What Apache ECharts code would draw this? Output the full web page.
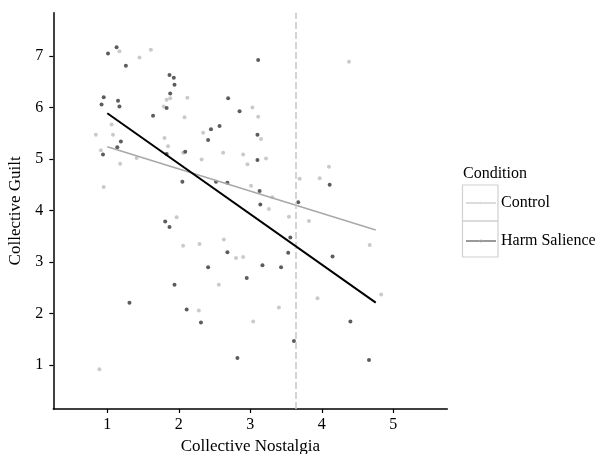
<!DOCTYPE html>
<html>
<head>
<meta charset="utf-8">
<script src="https://cdn.jsdelivr.net/npm/echarts@6/dist/echarts.min.js"></script>
<style>html,body{margin:0;padding:0;background:#fff;}#c{width:606px;height:454px;}</style>
</head>
<body>
<div id="c"></div>
<script>
const xTicks = [1, 2, 3, 4, 5];
const yTicks = [1, 2, 3, 4, 5, 6, 7];
const seriesNames = ['Control', 'Harm Salience'];

const controlPoints = [
  [1.17,7.09],[1.45,6.97],[1.61,7.12],[1.88,6.18],[1.83,6.15],[1.79,6.02],[2.12,6.19],
  [2.08,5.81],[1.06,5.67],[0.84,5.47],[1.08,5.47],[1.80,5.41],[1.85,5.25],[2.34,5.51],
  [0.91,5.17],[4.38,6.89],[3.03,6.00],[3.11,5.82],[3.15,5.39],[1.18,4.91],[1.41,5.02],
  [0.95,4.46],[2.06,5.12],[2.32,4.99],[1.97,3.87],[2.06,3.32],[2.29,3.35],[2.62,5.12],
  [2.90,5.09],[2.96,4.90],[3.22,5.01],[4.10,4.85],[3.97,4.63],[3.69,4.62],[3.01,4.48],
  [3.31,4.26],[3.26,4.03],[3.54,3.88],[3.82,3.80],[2.63,3.44],[2.80,3.08],[2.90,3.10],
  [2.56,2.56],[4.67,3.33],[2.28,2.06],[0.89,0.92],[3.04,1.85],[3.40,2.12],[3.94,2.30],
  [4.83,2.37]
];
const harmPoints = [
  [1.01,7.05],[1.13,7.17],[1.26,6.81],[0.95,6.20],[0.92,6.06],[1.15,6.13],[1.17,6.02],
  [1.87,6.63],[1.93,6.58],[1.94,6.44],[1.88,6.27],[1.83,5.99],[1.64,5.84],[1.19,5.34],
  [1.14,5.23],[2.41,5.37],[2.45,5.58],[2.57,5.64],[3.11,6.92],[2.69,6.18],[2.85,5.93],
  [3.10,5.47],[0.94,5.09],[1.83,5.10],[2.09,5.14],[2.05,4.56],[1.81,3.79],[1.87,3.68],
  [2.41,2.90],[1.94,2.56],[3.10,4.98],[2.52,4.56],[2.68,4.54],[3.13,4.38],[3.14,4.12],
  [3.67,4.16],[4.11,4.50],[3.56,3.48],[3.53,3.18],[2.68,3.19],[4.15,3.11],[3.17,2.94],
  [3.43,2.90],[2.95,2.69],[1.31,2.21],[2.11,2.08],[2.31,1.83],[2.82,1.14],[3.61,1.47],
  [4.40,1.85],[4.66,1.10]
];
const controlFit = [[1.0, 5.24], [4.754, 3.625]];
const harmFit = [[1.0, 5.89], [4.754, 2.215]];
const cutoffX = 3.635;

const FONT = 'Liberation Serif';
const chart = echarts.init(document.getElementById('c'), null, {renderer: 'canvas'});
const iconPath = 'path://M0,4.4 L30,4.4 L30,5.6 L0,5.6 Z M13.8,5 A1.2,1.2 0 1 0 16.2,5 A1.2,1.2 0 1 0 13.8,5 Z';

chart.setOption({
  animation: false,
  backgroundColor: '#fff',
  grid: {left: 53.3, right: 158.7, top: 12.7, bottom: 45, containLabel: false, outerBoundsMode: 'none'},
  xAxis: {
    type: 'value', min: 0.245, max: 5.755,
    name: 'Collective Nostalgia', nameLocation: 'middle', nameGap: 28,
    nameTextStyle: {fontFamily: FONT, fontSize: 17, color: '#000'},
    axisLine: {show: true, onZero: false, lineStyle: {color: '#000', width: 1.5}},
    axisTick: {show: true, length: 4, customValues: xTicks, lineStyle: {color: '#000', width: 1.2}},
    axisLabel: {customValues: xTicks, fontFamily: FONT, fontSize: 16, color: '#000', margin: 8},
    splitLine: {show: false}
  },
  yAxis: {
    type: 'value', min: 0.15, max: 7.84,
    name: 'Collective Guilt', nameLocation: 'middle', nameGap: 26,
    nameTextStyle: {fontFamily: FONT, fontSize: 17, color: '#000'},
    axisLine: {show: true, onZero: false, lineStyle: {color: '#000', width: 1.5}},
    axisTick: {show: true, length: 4, customValues: yTicks, lineStyle: {color: '#000', width: 1.2}},
    axisLabel: {customValues: yTicks, fontFamily: FONT, fontSize: 16, color: '#000', margin: 10},
    splitLine: {show: false}
  },
  legend: {
    orient: 'vertical', left: 466, top: 195, padding: 0,
    itemWidth: 30, itemHeight: 10, itemGap: 22,
    textStyle: {fontFamily: FONT, fontSize: 16, color: '#000'},
    data: [
      {name: seriesNames[0], icon: iconPath, itemStyle: {color: '#a8a8a8'}},
      {name: seriesNames[1], icon: iconPath, itemStyle: {color: '#000'}}
    ]
  },
  graphic: [
    {type: 'text', left: 463, top: 166, style: {text: 'Condition', font: '16px "Liberation Serif"', fill: '#000'}},
    {type: 'rect', shape: {x: 462.5, y: 185, width: 35.5, height: 36}, style: {fill: 'none', stroke: '#d0d0d0', lineWidth: 1.2}, z: -1},
    {type: 'rect', shape: {x: 462.5, y: 221, width: 35.5, height: 36}, style: {fill: 'none', stroke: '#d0d0d0', lineWidth: 1.2}, z: -1}
  ],
  series: [
    {
      name: seriesNames[0], type: 'scatter', data: controlPoints,
      symbol: 'circle', symbolSize: 4, itemStyle: {color: '#bdbdbd'}, z: 2,
      markLine: {
        silent: true, symbol: ['none', 'none'], label: {show: false},
        lineStyle: {color: '#c8c8c8', type: [7, 3], width: 1.5},
        data: [{xAxis: cutoffX}]
      }
    },
    {
      name: seriesNames[1], type: 'scatter', data: harmPoints,
      symbol: 'circle', symbolSize: 4, itemStyle: {color: '#333'}, z: 3
    },
    {
      name: seriesNames[0], type: 'line', data: controlFit, showSymbol: false, symbol: 'none',
      lineStyle: {color: '#a8a8a8', width: 1.5}, itemStyle: {color: '#a8a8a8'}, z: 4
    },
    {
      name: seriesNames[1], type: 'line', data: harmFit, showSymbol: false, symbol: 'none',
      lineStyle: {color: '#000', width: 2}, itemStyle: {color: '#000'}, z: 5
    }
  ]
});
</script>
</body>
</html>
